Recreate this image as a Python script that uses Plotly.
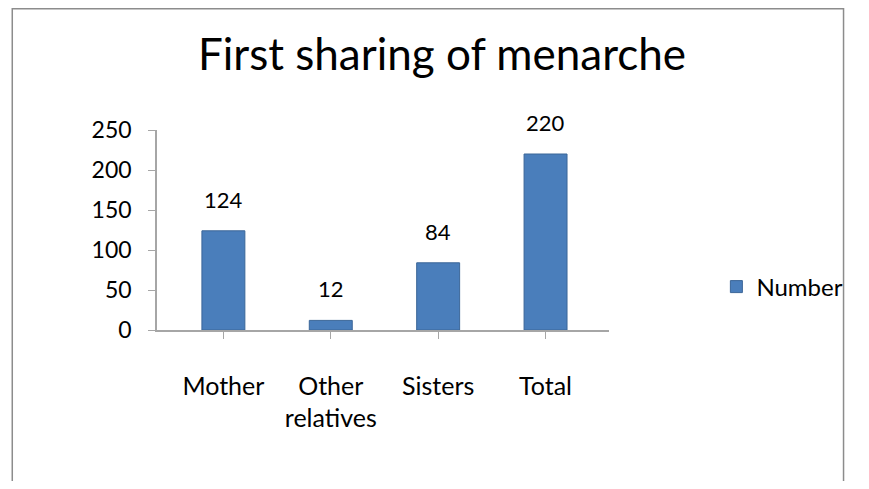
import plotly.graph_objects as go

categories = ["Mother", "Other<br>relatives", "Sisters", "Total"]
values = [124, 12, 84, 220]
series_name = "Number"
title_text = "First sharing of menarche"

# Page is rendered with an 8px body margin; size the figure so no scrollbars appear
# and work in page coordinates, converting to figure coordinates.
OFF = 8
W, H = 869 - 2 * OFF, 489 - 2 * OFF
plot_left, plot_right = 157 - OFF, 620 - OFF
plot_top, plot_bottom = 130 - OFF, 330 - OFF
L, R, T, B = plot_left, W - plot_right, plot_top, H - plot_bottom
pw, ph = plot_right - plot_left, plot_bottom - plot_top

def px(xpage):
    return (xpage - OFF - L) / pw

def py(ypage):
    return (plot_bottom - (ypage - OFF)) / ph

x_lo = -(225 - 157) / 110
x_hi = (620 - 225) / 110

FONT = "Lato"
fig = go.Figure()
fig.add_trace(go.Bar(
    x=list(range(len(categories))), y=values, name=series_name,
    marker=dict(color="#4A7EBB", line=dict(color="#3B6698", width=1)),
    width=0.4,
    showlegend=True,
))
for i, v in enumerate(values):
    fig.add_annotation(x=i, y=v, text=str(v), showarrow=False, yanchor="bottom",
                       yshift=16, font=dict(size=22, family=FONT, color="#000000"))

fig.update_layout(
    width=W, height=H,
    margin=dict(l=L, r=R, t=T, b=B),
    paper_bgcolor="white", plot_bgcolor="white",
    font=dict(family=FONT, size=22, color="#000000"),
    title=dict(text=title_text, x=(442 - OFF) / W, xanchor="center",
               y=1 - (55 - OFF) / H, yanchor="middle",
               font=dict(size=44, family=FONT, color="#000000")),
    showlegend=True,
    legend=dict(x=px(730), y=py(287), xanchor="left", yanchor="middle",
                font=dict(size=24, family=FONT), bgcolor="rgba(0,0,0,0)"),
)
fig.update_yaxes(range=[0, 250], dtick=50, showgrid=False, showline=True,
                 linecolor="#A6A6A6", linewidth=1.5, ticks="outside", tickcolor="#A6A6A6",
                 ticklen=7, tickfont=dict(size=23), zeroline=False, ticklabelstandoff=12)
fig.update_xaxes(range=[x_lo, x_hi], tickmode="array",
                 tickvals=list(range(len(categories))), ticktext=categories,
                 showgrid=False, showline=True, linecolor="#A6A6A6", linewidth=1.5,
                 ticks="outside", tickcolor="#A6A6A6", ticklen=7, tickson="boundaries",
                 tickfont=dict(size=25), ticklabelstandoff=26)
fig.add_shape(type="rect", xref="paper", yref="paper",
              x0=px(OFF + 0.75), x1=px(OFF + W - 0.75), y0=py(OFF + 0.75), y1=py(560),
              line=dict(color="#8C8C8C", width=1.5), fillcolor="rgba(0,0,0,0)", layer="below")
fig.write_html("out.html")
